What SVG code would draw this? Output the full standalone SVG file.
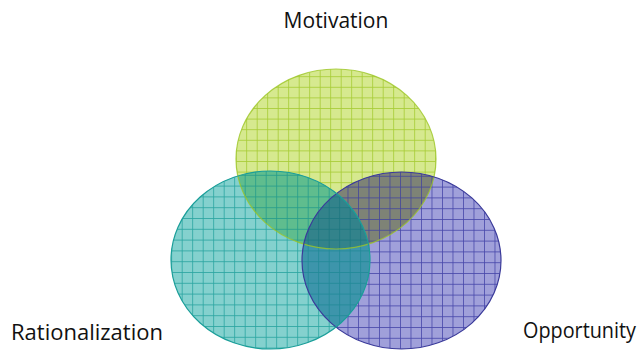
<svg xmlns="http://www.w3.org/2000/svg" width="643" height="350" viewBox="0 0 643 350">
  <style>
    .lbl { font-family: "Open Sans", "Liberation Sans", sans-serif; font-size: 21px; fill: #111111; }
    .edge { fill: none; stroke-width: 1.2; }
  </style>
  <defs>
    <ellipse id="eG" cx="336" cy="159" rx="100" ry="90"/>
    <ellipse id="eB" cx="401.5" cy="260.5" rx="99.5" ry="88.5"/>
    <ellipse id="eT" cx="270.5" cy="260" rx="99.5" ry="89"/>
    <clipPath id="cG"><use href="#eG"/></clipPath>
    <clipPath id="cB"><use href="#eB"/></clipPath>
    <pattern id="pGreen" patternUnits="userSpaceOnUse" x="4.7" y="2" width="10.5" height="10.6">
      <rect width="10.5" height="10.6" fill="#d6e98f"/>
      <path d="M0.4 0V10.6M0 0.4H10.5" stroke="#a6cb35" stroke-width="0.9" fill="none"/>
    </pattern>
    <pattern id="pBlue" patternUnits="userSpaceOnUse" x="1" y="3" width="10.5" height="10.8">
      <rect width="10.5" height="10.8" fill="#a0a0da"/>
      <path d="M0.4 0V10.8M0 0.4H10.5" stroke="#4848aa" stroke-width="0.9" fill="none"/>
    </pattern>
    <pattern id="pTeal" patternUnits="userSpaceOnUse" x="3.2" y="2" width="10.5" height="10.8">
      <rect width="10.5" height="10.8" fill="#84d1ce"/>
      <path d="M0.4 0V10.8M0 0.4H10.5" stroke="#2aa5a0" stroke-width="0.9" fill="none"/>
    </pattern>
    <pattern id="pGB" patternUnits="userSpaceOnUse" x="1" y="3" width="10.5" height="10.8">
      <rect width="10.5" height="10.8" fill="#7e8376"/>
      <path d="M0.4 0V10.8M0 0.4H10.5" stroke="#45479a" stroke-width="0.9" fill="none"/>
    </pattern>
    <pattern id="pTG" patternUnits="userSpaceOnUse" x="3.2" y="2" width="10.5" height="10.8">
      <rect width="10.5" height="10.8" fill="#5fbd8e"/>
      <path d="M0.4 0V10.8M0 0.4H10.5" stroke="#269c8c" stroke-width="0.9" fill="none"/>
    </pattern>
    <pattern id="pTB" patternUnits="userSpaceOnUse" x="3.2" y="2" width="10.5" height="10.8">
      <rect width="10.5" height="10.8" fill="#3d95ab"/>
      <path d="M0.4 0V10.8M0 0.4H10.5" stroke="#1f8a98" stroke-width="0.9" fill="none"/>
    </pattern>
    <pattern id="pTGB" patternUnits="userSpaceOnUse" x="3.2" y="2" width="10.5" height="10.8">
      <rect width="10.5" height="10.8" fill="#33838b"/>
      <path d="M0.4 0V10.8M0 0.4H10.5" stroke="#1c7680" stroke-width="0.9" fill="none"/>
    </pattern>
  </defs>
  <g id="motivation">
    <use href="#eG" fill="url(#pGreen)"/>
    <text class="lbl" x="336" y="28" text-anchor="middle">Motivation</text>
  </g>
  <g id="opportunity">
    <use href="#eB" fill="url(#pBlue)"/>
    <text class="lbl" x="523" y="338" textLength="113" lengthAdjust="spacingAndGlyphs">Opportunity</text>
  </g>
  <g id="rationalization">
    <use href="#eT" fill="url(#pTeal)"/>
    <text class="lbl" x="11" y="340" textLength="152" lengthAdjust="spacingAndGlyphs">Rationalization</text>
  </g>
  <g id="overlaps">
    <use href="#eB" fill="url(#pGB)" clip-path="url(#cG)"/>
    <use href="#eT" fill="url(#pTG)" clip-path="url(#cG)"/>
    <use href="#eT" fill="url(#pTB)" clip-path="url(#cB)"/>
    <g clip-path="url(#cG)">
      <use href="#eT" fill="url(#pTGB)" clip-path="url(#cB)"/>
    </g>
  </g>
  <g id="outlines">
    <use href="#eG" class="edge" stroke="#9cc525" stroke-opacity="0.8"/>
    <use href="#eB" class="edge" stroke="#3a3a9a"/>
    <use href="#eT" class="edge" stroke="#1a9e99"/>
  </g>
  <g id="connectors"/>
</svg>
